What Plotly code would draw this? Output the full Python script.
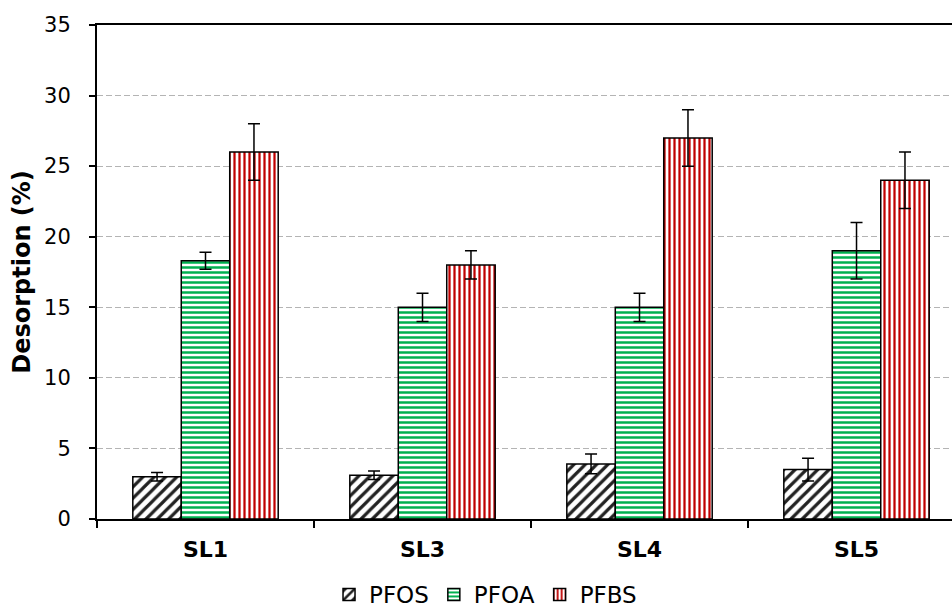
import plotly.graph_objects as go

categories = ["SL1", "SL3", "SL4", "SL5"]
pfos = [3.0, 3.1, 3.9, 3.5]
pfos_err = [0.3, 0.3, 0.7, 0.8]
pfoa = [18.3, 15.0, 15.0, 19.0]
pfoa_err = [0.6, 1.0, 1.0, 2.0]
pfbs = [26.0, 18.0, 27.0, 24.0]
pfbs_err = [2.0, 1.0, 2.0, 2.0]

FONT = "DejaVu Sans"

def bar(name, y, err, shape, fg, size, solidity):
    return go.Bar(
        name=name, x=categories, y=y,
        error_y=dict(type="data", array=err, visible=True, color="black", thickness=1.5, width=6),
        marker=dict(color="white", line=dict(color="black", width=1.5),
                    pattern=dict(shape=shape, fgcolor=fg, bgcolor="white", size=size,
                                 solidity=solidity, fillmode="replace")),
    )

fig = go.Figure([
    bar("PFOS", pfos, pfos_err, "/", "#222222", 8, 0.4),
    bar("PFOA", pfoa, pfoa_err, "-", "#00B050", 5, 0.5),
    bar("PFBS", pfbs, pfbs_err, "|", "#C00000", 5, 0.45),
])

fig.update_layout(
    width=952, height=616,
    margin=dict(l=97, r=0, t=25, b=97, autoexpand=False),
    plot_bgcolor="white", paper_bgcolor="white",
    barmode="group", bargap=0.33, bargroupgap=0,
    font=dict(family=FONT, size=21, color="black"),
    showlegend=True,
    legend=dict(orientation="h", xref="container", yref="container",
                x=0.51, xanchor="center", y=-0.01, yanchor="bottom",
                font=dict(size=23, family=FONT), itemwidth=30, tracegroupgap=0),
)
fig.update_xaxes(
    range=[-0.5, 3.44], showline=True, linecolor="black", linewidth=2, mirror=True,
    ticks="outside", tickson="boundaries", ticklen=7, tickwidth=1.5, tickcolor="black",
    tickfont=dict(size=22, family=FONT, weight="bold"), showgrid=False,
    ticklabelstandoff=10, automargin=False,
)
fig.update_yaxes(
    range=[0, 35], dtick=5, showline=True, linecolor="black", linewidth=2,
    ticks="outside", ticklen=6, tickwidth=1.5, tickcolor="black",
    showgrid=True, gridcolor="#b4b4b4", gridwidth=1, griddash="6px,3px",
    zeroline=False, tickfont=dict(size=21, family=FONT),
    ticklabelstandoff=14, automargin=False,
    title=dict(text="<b>Desorption (%)</b>", font=dict(size=24, family=FONT), standoff=7),
)
fig.write_html("out.html")
